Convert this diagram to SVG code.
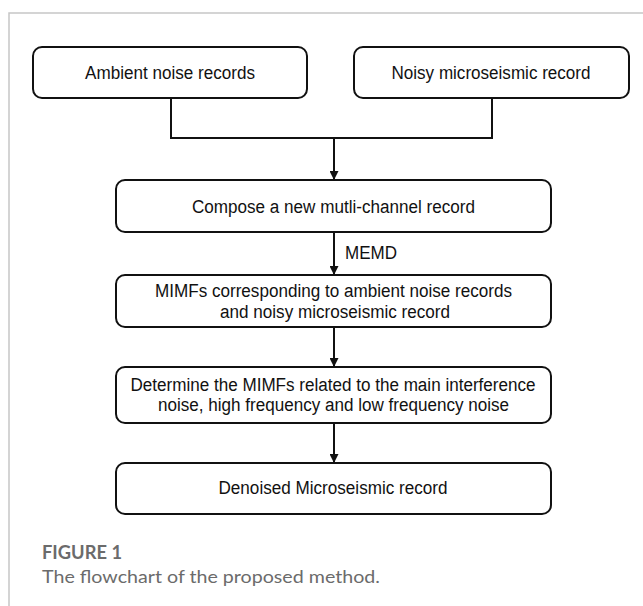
<svg xmlns="http://www.w3.org/2000/svg" width="643" height="606" viewBox="0 0 643 606">
<defs>
<style>
.frame{fill:none;stroke:#c6c6c6;stroke-width:1.5}
.box{fill:#fff;stroke:#111;stroke-width:2}
.t{font-family:"Liberation Sans",Arial,sans-serif;font-size:18px;fill:#111;text-anchor:middle}
.lbl{font-family:"Liberation Sans",Arial,sans-serif;font-size:18px;fill:#111}
.conn{fill:none;stroke:#111;stroke-width:2}
.cap1{font-family:Lato,"Open Sans",sans-serif;font-size:19px;font-weight:bold;fill:#6b6b6b}
.cap2{font-family:Lato,"Open Sans",sans-serif;font-size:18px;fill:#6b6b6b}
</style>
<marker id="ah" viewBox="0 0 10 10" refX="10" refY="5" markerWidth="10" markerHeight="9" markerUnits="userSpaceOnUse" orient="auto">
<path d="M0,0 L10,5 L0,10 z" fill="#111"/>
</marker>
</defs>
<rect width="643" height="606" fill="#fff"/>
<path class="frame" d="M9,606 V13 H643"/>

<g id="connectors">
<path class="conn" d="M171,98 V138 H492 V98"/>
<path class="conn" d="M334,138 V180" marker-end="url(#ah)"/>
<path class="conn" d="M334,232 V275" marker-end="url(#ah)"/>
<path class="conn" d="M334,327 V367" marker-end="url(#ah)"/>
<path class="conn" d="M334,423 V463" marker-end="url(#ah)"/>
<text class="lbl" x="345" y="259" textLength="52" lengthAdjust="spacingAndGlyphs">MEMD</text>
</g>

<g id="n1">
<rect class="box" x="33" y="47" width="274" height="51" rx="9"/>
<text class="t" x="170" y="79" textLength="170" lengthAdjust="spacingAndGlyphs">Ambient noise records</text>
</g>
<g id="n2">
<rect class="box" x="354" y="47" width="275" height="51" rx="9"/>
<text class="t" x="491" y="79" textLength="199" lengthAdjust="spacingAndGlyphs">Noisy microseismic record</text>
</g>
<g id="n3">
<rect class="box" x="116" y="180" width="435" height="52" rx="9"/>
<text class="t" x="333.5" y="213" textLength="283" lengthAdjust="spacingAndGlyphs">Compose a new mutli-channel record</text>
</g>
<g id="n4">
<rect class="box" x="116" y="275" width="435" height="52" rx="9"/>
<text class="t" x="333.5" y="297" textLength="357" lengthAdjust="spacingAndGlyphs">MIMFs corresponding to ambient noise records</text>
<text class="t" x="335" y="318" textLength="230" lengthAdjust="spacingAndGlyphs">and noisy microseismic record</text>
</g>
<g id="n5">
<rect class="box" x="116" y="367" width="435" height="56" rx="9"/>
<text class="t" x="333" y="391" textLength="405" lengthAdjust="spacingAndGlyphs">Determine the MIMFs related to the main interference</text>
<text class="t" x="333.5" y="411" textLength="351" lengthAdjust="spacingAndGlyphs">noise, high frequency and low frequency noise</text>
</g>
<g id="n6">
<rect class="box" x="116" y="463" width="435" height="51" rx="9"/>
<text class="t" x="333" y="494" textLength="229" lengthAdjust="spacingAndGlyphs">Denoised Microseismic record</text>
</g>

<text class="cap1" x="42" y="559" textLength="80" lengthAdjust="spacingAndGlyphs">FIGURE 1</text>
<text class="cap2" x="42" y="583" textLength="338" lengthAdjust="spacingAndGlyphs">The flowchart of the proposed method.</text>
</svg>
